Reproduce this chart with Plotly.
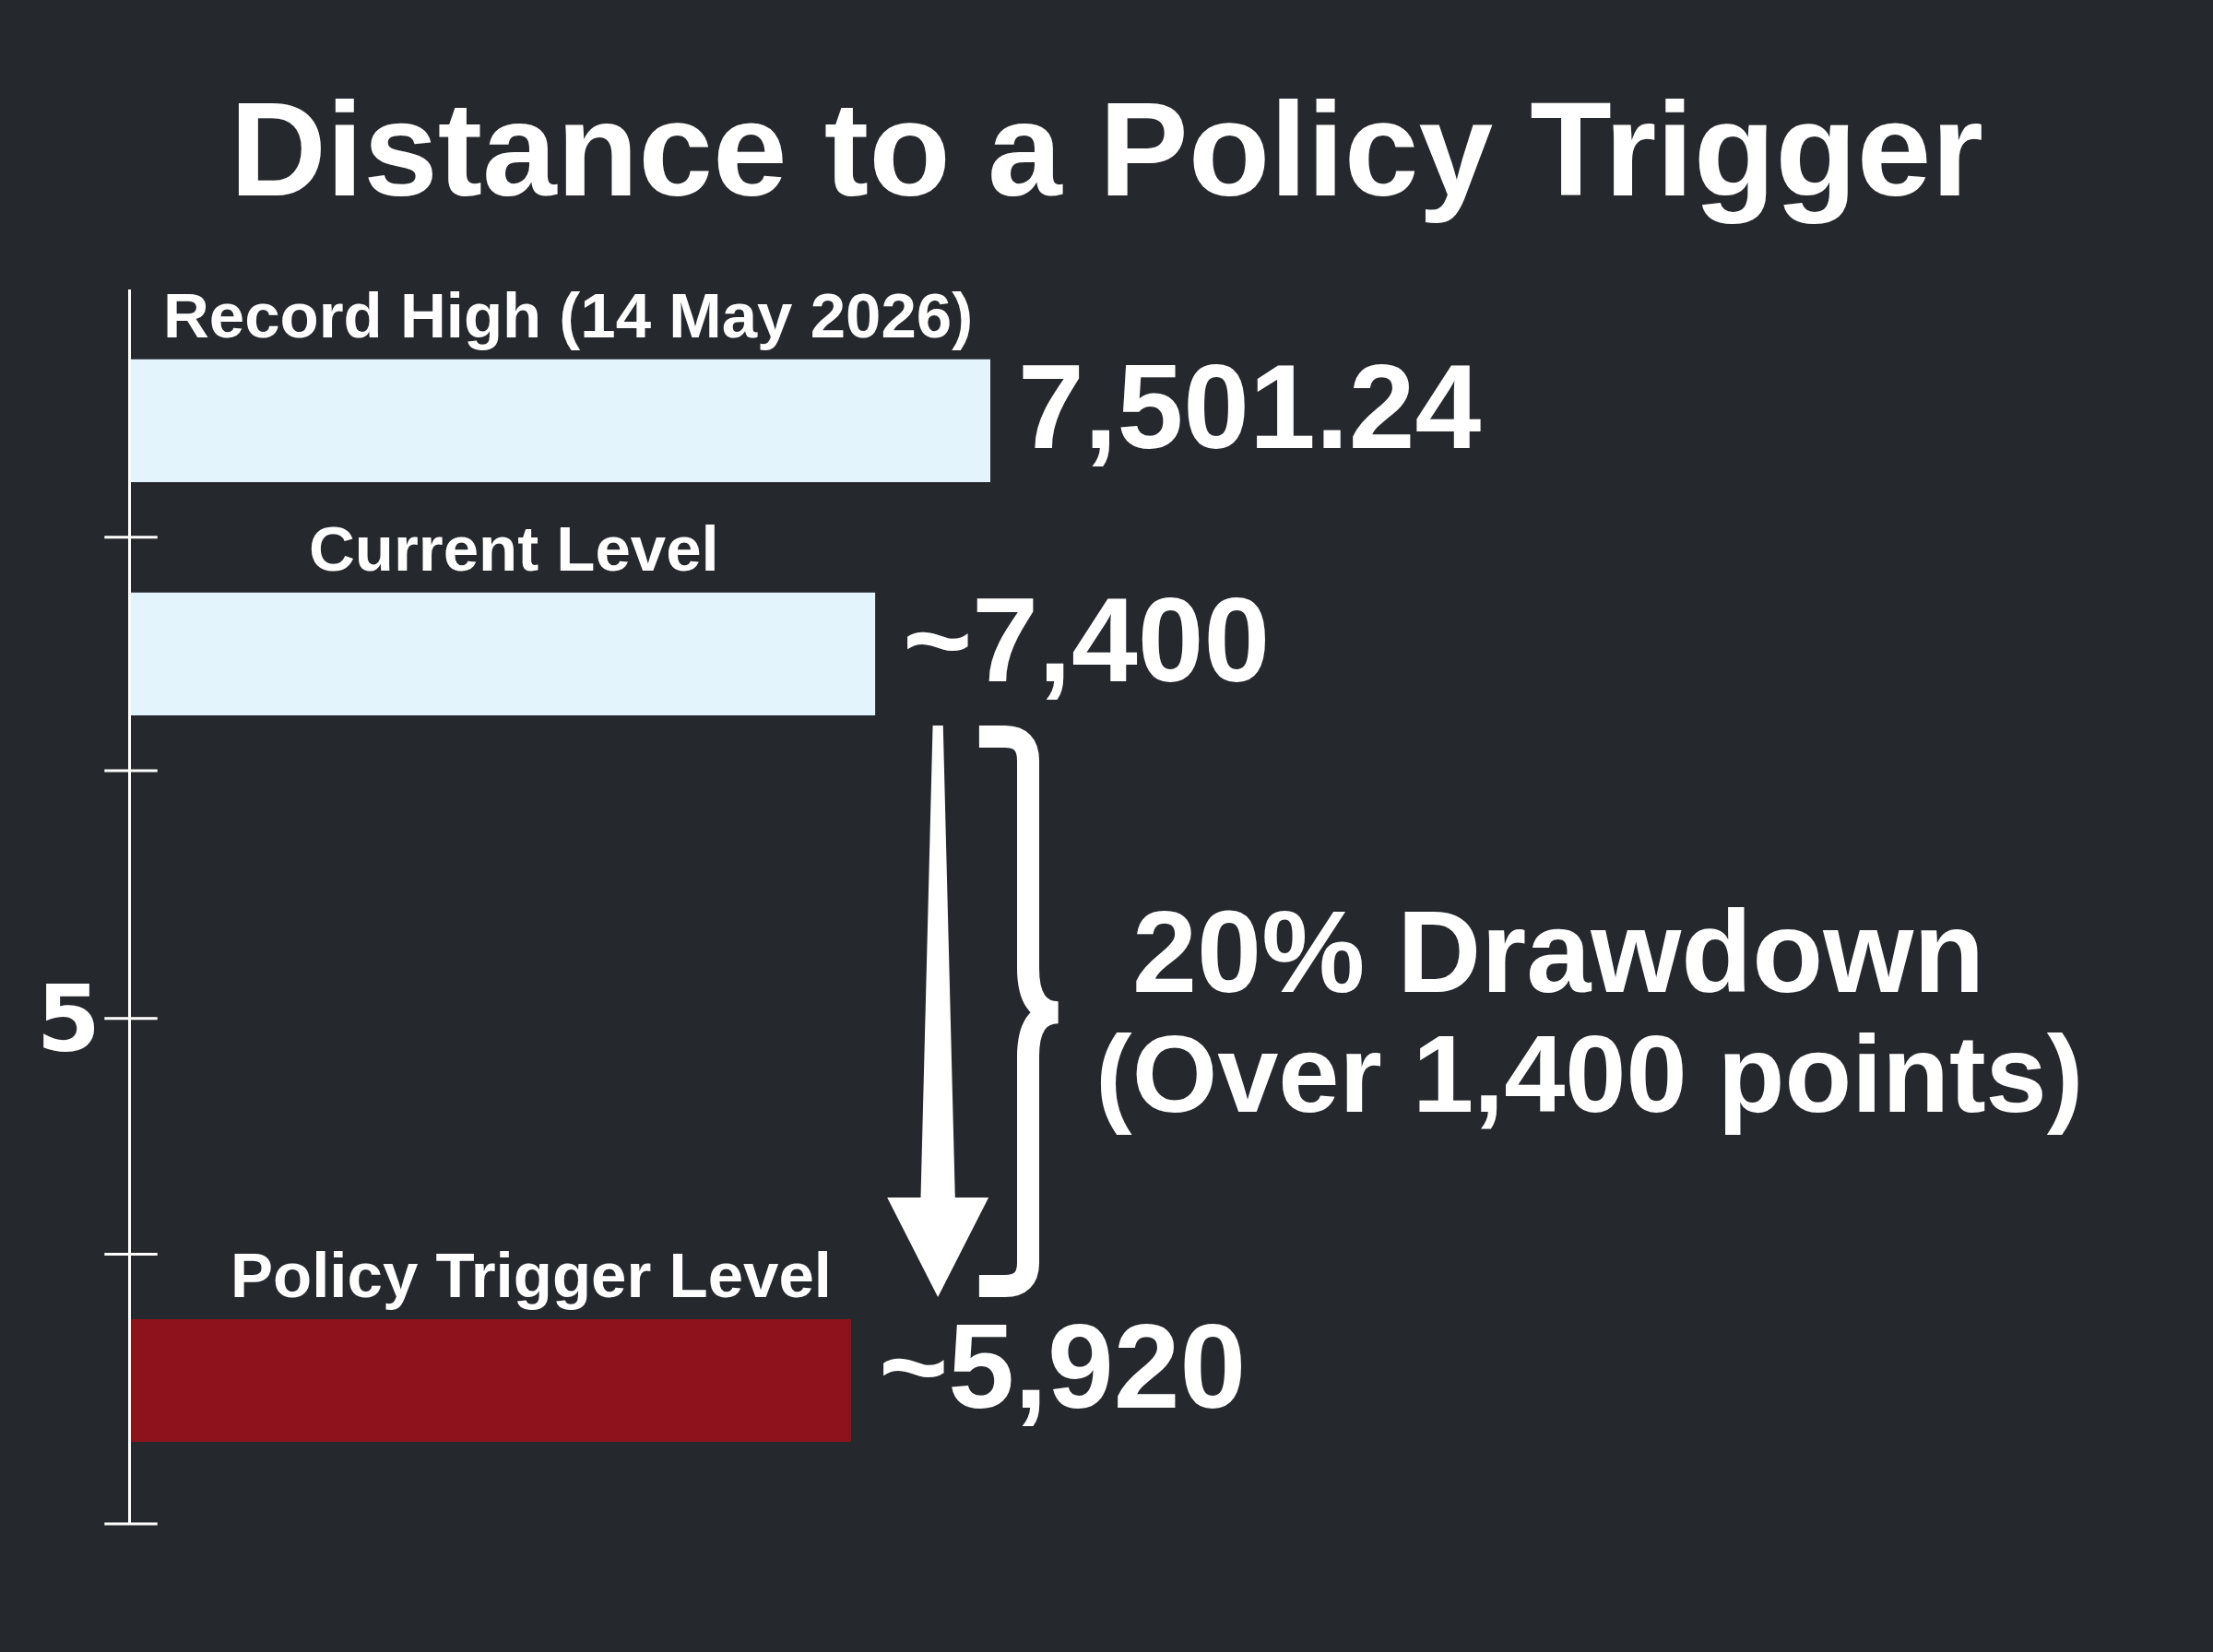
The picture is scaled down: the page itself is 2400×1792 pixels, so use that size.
import plotly.graph_objects as go

# ---------------- data ----------------
levels = ["Record High (14 May 2026)", "Current Level", "Policy Trigger Level"]
level_values = [7501.24, 7400, 5920]
value_labels = ["7,501.24", "~7,400", "~5,920"]
bar_extent = [100, 86.6, 83.8]          # drawn bar length, % of the record-high bar (as pictured)
row_pos = [0.54, 1.50, 4.49]            # vertical slot of each bar on the scale
tick_pos = [1.02, 1.98, 3.0, 3.97, 5.08]
tick_label_pos = [3.0]
tick_label_text = ["5"]
drawdown_lines = ["20% Drawdown", "(Over 1,400 points)"]
title_text = "Distance to a Policy Trigger"

# ---------------- style ----------------
BG = "#25282d"
WHITE = "#ffffff"
BAR_COLORS = ["#e3f4fd", "#e3f4fd", "#8e121c"]
BAR_W = 0.505
FONT = "Liberation Sans"
LABEL_XSHIFT = [8, 12, 43]
X_RANGE = [0, 236.05]
Y_RANGE = [5.08, 0]

fig = go.Figure()

fig.add_trace(go.Bar(
    x=bar_extent, y=row_pos, orientation="h", width=BAR_W,
    marker=dict(color=BAR_COLORS, line=dict(width=0)),
    hoverinfo="skip", showlegend=False,
))

# tick marks crossing the axis line
fig.add_trace(go.Scatter(
    x=[0] * len(tick_pos), y=tick_pos, mode="markers",
    marker=dict(symbol="line-ew", size=41, line=dict(width=3, color=WHITE)),
    cliponaxis=False, hoverinfo="skip", showlegend=False,
))

annotations = []
for i, (lab, vl, ext, pos) in enumerate(zip(levels, value_labels, bar_extent, row_pos)):
    annotations.append(dict(
        x=ext / 2, y=pos - BAR_W / 2, xref="x", yref="y", text=lab, showarrow=False,
        xanchor="center", yanchor="middle", yshift=47, xshift=LABEL_XSHIFT[i],
        font=dict(family=FONT, size=69, color=WHITE, weight=700),
    ))
    annotations.append(dict(
        x=ext, y=pos, xref="x", yref="y", text=vl, showarrow=False,
        xanchor="left", yanchor="middle", xshift=28, yshift=15,
        font=dict(family=FONT, size=129, color=WHITE, weight=700),
    ))

annotations.append(dict(
    x=166.1, y=2.724, xref="x", yref="y", text=drawdown_lines[0], showarrow=False,
    xanchor="center", yanchor="middle",
    font=dict(family=FONT, size=126, color=WHITE, weight=700),
))
annotations.append(dict(
    x=169.7, y=3.225, xref="x", yref="y", text=drawdown_lines[1], showarrow=False,
    xanchor="center", yanchor="middle",
    font=dict(family=FONT, size=119, color=WHITE, weight=700),
))

# ---------------- arrow (tapered) between current and trigger bars ----------------
cx = 93.9
top_y = row_pos[1] + BAR_W / 2 + 0.042
tip_y = row_pos[2] - BAR_W / 2 - 0.091
head_y = tip_y - 0.41
arrow_path = (
    f"M {cx-0.6},{top_y} L {cx+0.6},{top_y} L {cx+2.0},{head_y} L {cx+5.9},{head_y} "
    f"L {cx},{tip_y} L {cx-5.9},{head_y} L {cx-2.0},{head_y} Z"
)

# ---------------- brace ----------------
bx, bend, bcorner, bcusp = 104.4, 98.7, 101.7, 107.9
y0, y0c, ym1, ym, ym2, y1c, y1 = 1.840, 1.939, 2.792, 2.975, 3.157, 4.006, 4.101
brace_path = (
    f"M {bend},{y0} L {bcorner},{y0} Q {bx},{y0} {bx},{y0c} L {bx},{ym1} "
    f"Q {bx},{ym} {bcusp},{ym} Q {bx},{ym} {bx},{ym2} L {bx},{y1c} "
    f"Q {bx},{y1} {bcorner},{y1} L {bend},{y1}"
)

shapes = [
    dict(type="path", path=arrow_path, xref="x", yref="y",
         fillcolor=WHITE, line=dict(width=0)),
    dict(type="path", path=brace_path, xref="x", yref="y",
         line=dict(color=WHITE, width=24)),
]

fig.update_layout(
    width=2400, height=1792,
    paper_bgcolor=BG, plot_bgcolor=BG,
    margin=dict(l=142, r=58, t=314, b=139),
    title=dict(text=title_text, x=0.5, xanchor="center", y=1 - 161 / 1792, yanchor="middle",
               yref="container",
               font=dict(family=FONT, size=145, color=WHITE, weight=700)),
    xaxis=dict(range=X_RANGE, showgrid=False, zeroline=False, showticklabels=False,
               showline=False, ticks=""),
    yaxis=dict(range=Y_RANGE, showgrid=False, zeroline=False, showline=True,
               linecolor=WHITE, linewidth=3, ticks="", ticklen=0,
               tickvals=tick_label_pos, ticktext=tick_label_text, ticklabelstandoff=10,
               tickfont=dict(family="DejaVu Sans", size=100, color=WHITE, weight=700)),
    annotations=annotations, shapes=shapes,
    hovermode=False, showlegend=False,
)

fig.write_html(
    "out.html",
    config={"displayModeBar": False},
    post_script="document.body.style.margin='0';document.body.style.background='#25282d';",
)
